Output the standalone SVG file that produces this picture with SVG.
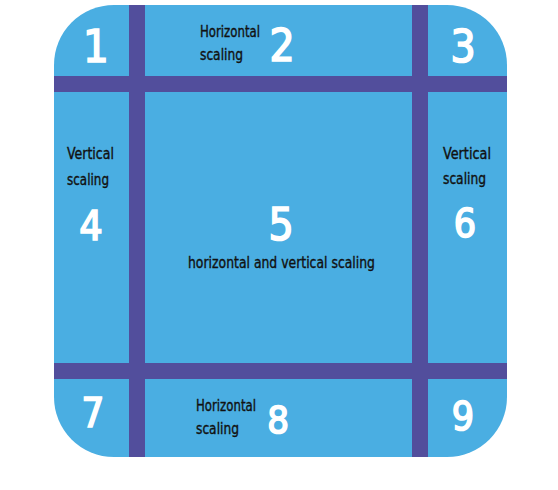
<svg xmlns="http://www.w3.org/2000/svg" width="558" height="490" viewBox="0 0 558 490">
<style>
.num{font-family:"DejaVu Sans Condensed","DejaVu Sans",sans-serif;font-stretch:condensed;font-weight:normal;fill:#ffffff;stroke:#ffffff;stroke-width:1.6px;text-anchor:middle}
.lbl{font-family:"DejaVu Sans Condensed","DejaVu Sans",sans-serif;font-stretch:condensed;font-size:15px;fill:#111111;stroke:#111111;stroke-width:0.35px}
.bar{fill:#524e9c}
</style>
<defs>
<clipPath id="clip"><rect x="54" y="5" width="453" height="452" rx="60" ry="60"/></clipPath>
</defs>
<rect width="558" height="490" fill="#ffffff"/>
<g id="panel">
<rect x="54" y="5" width="453" height="452" rx="60" ry="60" fill="#4aaee2"/>
</g>
<g id="bars" clip-path="url(#clip)">
<rect class="bar" x="129" y="5" width="16" height="452"/>
<rect class="bar" x="412" y="5" width="16" height="452"/>
<rect class="bar" x="54" y="76" width="453" height="16"/>
<rect class="bar" x="54" y="363" width="453" height="16"/>
</g>
<g id="cell1"><text class="num" x="96" y="62" font-size="45">1</text></g>
<g id="cell2">
<text class="lbl" x="200" y="37" textLength="60" lengthAdjust="spacingAndGlyphs">Horizontal</text>
<text class="lbl" x="200" y="60" textLength="43" lengthAdjust="spacingAndGlyphs">scaling</text>
<text class="num" x="282" y="61" font-size="44">2</text>
</g>
<g id="cell3"><text class="num" x="463" y="62" font-size="44">3</text></g>
<g id="cell4">
<text class="lbl" x="67" y="159" textLength="47" lengthAdjust="spacingAndGlyphs">Vertical</text>
<text class="lbl" x="67" y="185" textLength="42" lengthAdjust="spacingAndGlyphs">scaling</text>
<text class="num" x="91" y="240" font-size="41">4</text>
</g>
<g id="cell5">
<text class="num" x="281" y="240" font-size="44">5</text>
<text class="lbl" x="188" y="268" textLength="187" lengthAdjust="spacingAndGlyphs">horizontal and vertical scaling</text>
</g>
<g id="cell6">
<text class="lbl" x="443" y="159" textLength="48" lengthAdjust="spacingAndGlyphs">Vertical</text>
<text class="lbl" x="443" y="184" textLength="43" lengthAdjust="spacingAndGlyphs">scaling</text>
<text class="num" x="465" y="237" font-size="39">6</text>
</g>
<g id="cell7"><text class="num" x="93" y="427" font-size="40">7</text></g>
<g id="cell8">
<text class="lbl" x="196" y="411" textLength="60" lengthAdjust="spacingAndGlyphs">Horizontal</text>
<text class="lbl" x="196" y="434" textLength="43" lengthAdjust="spacingAndGlyphs">scaling</text>
<text class="num" x="278" y="433" font-size="38">8</text>
</g>
<g id="cell9"><text class="num" x="463" y="430" font-size="39">9</text></g>
</svg>
